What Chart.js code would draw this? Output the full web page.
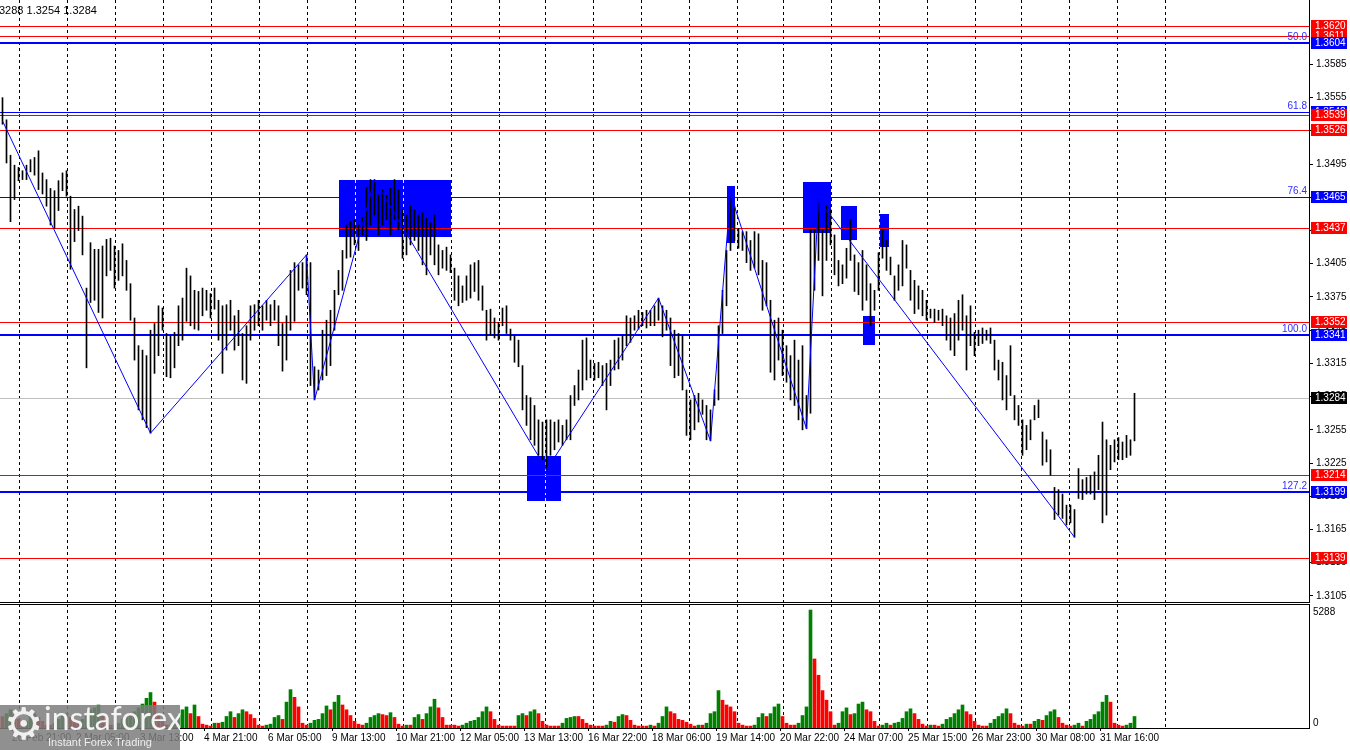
<!DOCTYPE html>
<html>
<head>
<meta charset="utf-8">
<script src="https://cdn.jsdelivr.net/npm/chart.js@4.4.1/dist/chart.umd.min.js"></script>
<style>
  html, body { margin: 0; padding: 0; background: #fff; }
  #wrap { position: relative; width: 1350px; height: 750px; overflow: hidden; background: #fff; }
  #priceCanvas { position: absolute; left: 0; top: 0; }
  #volCanvas { position: absolute; left: 0; top: 603px; }
  #logo { position: absolute; left: 0; top: 705px; width: 180px; height: 45px; background: rgba(125,125,125,0.85); overflow: hidden; }
  #logo .gear { position: absolute; left: 4px; top: -7px; font: 44px 'DejaVu Sans'; color: #f0f0f0; }
  #logo .brand { position: absolute; left: 44px; top: -7px; font: 32px Lato; color: #f4f4f4; }
  #logo .tag { position: absolute; left: 48px; top: 31px; font: 11px 'Liberation Sans'; color: #eeeeee; }
</style>
</head>
<body>
<div id="wrap">
  <canvas id="priceCanvas" width="1350" height="603"></canvas>
  <canvas id="volCanvas" width="1350" height="147"></canvas>
  <div id="logo"><span class="gear">⚙</span><span class="brand">instaforex</span><span class="tag">Instant Forex Trading</span></div>
</div>
<script>
// one bar every 2 hours, index 0 = left edge of the window
const highs = [
  1.3555,1.3535,1.3503,1.3494,1.3492,1.3489,1.3494,1.3499,1.3501,1.3507,
  1.3487,1.3481,1.3473,1.3471,1.3480,1.3487,1.3489,1.3466,1.3454,1.3457,
  1.3448,1.3383,1.3424,1.3418,1.3418,1.3421,1.3427,1.3428,1.3421,1.3417,
  1.3423,1.3408,1.3387,1.3356,1.3331,1.3327,1.3322,1.3345,1.3351,1.3367,
  1.3365,1.3342,1.3340,1.3343,1.3367,1.3374,1.3401,1.3394,1.3381,1.3380,
  1.3383,1.3381,1.3378,1.3383,1.3372,1.3367,1.3368,1.3372,1.3358,1.3363,
  1.3342,1.3349,1.3367,1.3368,1.3372,1.3367,1.3372,1.3368,1.3372,1.3367,
  1.3351,1.3358,1.3399,1.3406,1.3404,1.3406,1.3413,1.3406,1.3312,1.3309,
  1.3345,1.3354,1.3363,1.3381,1.3399,1.3417,1.3440,1.3443,1.3445,1.3440,
  1.3447,1.3474,1.3481,1.3481,1.3467,1.3472,1.3467,1.3473,1.3481,1.3472,
  1.3454,1.3449,1.3457,1.3454,1.3449,1.3451,1.3446,1.3442,1.3449,1.3422,
  1.3417,1.3420,1.3413,1.3401,1.3394,1.3385,1.3394,1.3404,1.3406,1.3408,
  1.3385,1.3363,1.3364,1.3356,1.3352,1.3365,1.3367,1.3346,1.3340,1.3336,
  1.3313,1.3286,1.3284,1.3277,1.3264,1.3262,1.3264,1.3264,1.3262,1.3264,
  1.3259,1.3264,1.3286,1.3295,1.3309,1.3336,1.3338,1.3318,1.3315,1.3316,
  1.3313,1.3315,1.3318,1.3336,1.3338,1.3340,1.3358,1.3356,1.3358,1.3363,
  1.3361,1.3363,1.3363,1.3367,1.3374,1.3367,1.3363,1.3356,1.3345,1.3342,
  1.3340,1.3291,1.3282,1.3286,1.3288,1.3282,1.3277,1.3273,1.3291,1.3349,
  1.3381,1.3417,1.3468,1.3457,1.3437,1.3434,1.3434,1.3426,1.3434,1.3432,
  1.3408,1.3406,1.3372,1.3354,1.3356,1.3345,1.3331,1.3322,1.3336,1.3318,
  1.3331,1.3286,1.3436,1.3436,1.3463,1.3436,1.3457,1.3454,1.3431,1.3408,
  1.3404,1.3419,1.3445,1.3413,1.3406,1.3417,1.3404,1.3387,1.3381,1.3415,
  1.3436,1.3426,1.3411,1.3394,1.3404,1.3426,1.3422,1.3399,1.3390,1.3385,
  1.3381,1.3372,1.3364,1.3364,1.3363,1.3364,1.3358,1.3356,1.3360,1.3372,
  1.3377,1.3358,1.3367,1.3343,1.3345,1.3347,1.3345,1.3347,1.3336,1.3318,
  1.3316,1.3304,1.3331,1.3286,1.3277,1.3264,1.3259,1.3264,1.3277,1.3282,
  1.3253,1.3246,1.3237,1.3203,1.3201,1.3197,1.3187,1.3187,1.3183,1.3220,
  1.3210,1.3212,1.3214,1.3217,1.3232,1.3262,1.3246,1.3241,1.3246,1.3248,
  1.3244,1.3250,1.3246,1.3288
];
const lows = [
  1.3531,1.3496,1.3443,1.3463,1.3480,1.3481,1.3481,1.3488,1.3485,1.3472,
  1.3468,1.3457,1.3440,1.3437,1.3453,1.3471,1.3466,1.3400,1.3425,1.3435,
  1.3413,1.3311,1.3370,1.3372,1.3361,1.3356,1.3394,1.3399,1.3383,1.3390,
  1.3394,1.3381,1.3354,1.3318,1.3273,1.3264,1.3257,1.3252,1.3306,1.3322,
  1.3345,1.3303,1.3302,1.3311,1.3331,1.3336,1.3353,1.3349,1.3346,1.3345,
  1.3358,1.3363,1.3356,1.3364,1.3336,1.3306,1.3327,1.3345,1.3327,1.3331,
  1.3300,1.3297,1.3336,1.3345,1.3349,1.3345,1.3354,1.3349,1.3354,1.3331,
  1.3308,1.3318,1.3345,1.3353,1.3381,1.3383,1.3377,1.3295,1.3282,1.3291,
  1.3300,1.3304,1.3313,1.3345,1.3377,1.3381,1.3410,1.3411,1.3422,1.3417,
  1.3431,1.3426,1.3440,1.3449,1.3431,1.3440,1.3445,1.3431,1.3445,1.3436,
  1.3410,1.3413,1.3422,1.3426,1.3417,1.3404,1.3395,1.3413,1.3404,1.3395,
  1.3401,1.3399,1.3397,1.3372,1.3367,1.3370,1.3372,1.3374,1.3380,1.3372,
  1.3363,1.3336,1.3341,1.3338,1.3336,1.3349,1.3342,1.3336,1.3316,1.3312,
  1.3273,1.3259,1.3246,1.3241,1.3232,1.3228,1.3219,1.3232,1.3237,1.3244,
  1.3241,1.3246,1.3246,1.3277,1.3282,1.3291,1.3300,1.3302,1.3300,1.3302,
  1.3295,1.3273,1.3295,1.3309,1.3310,1.3318,1.3331,1.3334,1.3345,1.3346,
  1.3349,1.3347,1.3349,1.3349,1.3354,1.3339,1.3345,1.3313,1.3302,1.3304,
  1.3291,1.3250,1.3246,1.3255,1.3262,1.3269,1.3246,1.3245,1.3277,1.3282,
  1.3342,1.3367,1.3417,1.3426,1.3419,1.3417,1.3406,1.3399,1.3401,1.3395,
  1.3363,1.3367,1.3307,1.3300,1.3318,1.3304,1.3298,1.3282,1.3277,1.3264,
  1.3255,1.3256,1.3270,1.3381,1.3408,1.3376,1.3408,1.3422,1.3395,1.3385,
  1.3387,1.3392,1.3408,1.3380,1.3377,1.3363,1.3372,1.3349,1.3363,1.3381,
  1.3410,1.3399,1.3395,1.3372,1.3381,1.3385,1.3401,1.3372,1.3360,1.3364,
  1.3358,1.3354,1.3356,1.3352,1.3354,1.3349,1.3336,1.3327,1.3322,1.3336,
  1.3345,1.3309,1.3331,1.3322,1.3331,1.3333,1.3336,1.3333,1.3309,1.3300,
  1.3282,1.3273,1.3286,1.3264,1.3259,1.3232,1.3237,1.3246,1.3264,1.3266,
  1.3223,1.3226,1.3214,1.3174,1.3178,1.3175,1.3169,1.3171,1.3158,1.3193,
  1.3192,1.3197,1.3197,1.3192,1.3201,1.3171,1.3178,1.3219,1.3226,1.3228,
  1.3228,1.3230,1.3232,1.3245
];
const volumes = [
  516,645,817,645,387,215,301,516,645,473,
  301,129,129,215,387,559,645,473,301,215,
  387,645,817,903,1032,645,301,129,129,215,
  387,473,559,731,903,1075,1333,1591,1161,645,
  301,129,129,301,559,817,946,645,1032,516,
  172,129,86,215,215,258,516,731,473,645,
  817,731,602,430,129,86,129,172,473,559,
  387,1161,1720,1376,946,215,129,215,344,387,
  645,989,817,1161,1462,1032,817,559,301,172,
  129,215,473,559,645,602,559,688,473,172,
  86,129,129,473,602,387,645,946,1290,903,
  473,129,129,129,86,129,215,301,344,473,
  731,946,731,387,129,86,86,86,86,559,
  645,559,731,817,645,301,129,86,86,86,
  215,430,473,516,516,387,215,129,86,86,
  86,129,301,258,516,602,559,344,129,86,
  86,86,129,86,215,516,946,731,645,387,
  344,258,172,86,129,129,215,645,731,1677,
  1247,1032,946,731,215,129,86,86,129,473,
  645,516,645,946,1075,516,215,129,129,215,
  559,946,5288,3096,2365,1677,1247,731,129,215,
  731,903,602,645,1075,1161,817,731,301,86,
  129,215,129,215,258,430,731,860,645,387,
  172,86,129,129,86,172,387,473,645,817,
  1032,731,602,301,129,86,86,215,387,516,
  645,860,645,215,129,86,172,172,301,387,
  344,559,731,817,473,215,129,86,129,215,
  86,301,387,602,731,1161,1462,1161,215,129,
  86,129,215,516
];
const volTop = 5288;

// day separators and time labels, in bar units
const gridBars = [4.15,16.15,28.15,40.15,52.15,64.15,76.15,88.15,100.15,112.15,124.15,135.65,147.65,
  159.65,171.65,183.65,195.15,207.15,219.15,231.15,243.15,254.65,266.65,278.65,290.65];
const labelBars = [2.4,18.4,34.4,50.4,66.4,82.4,98.4,114.4,130.4,146.4,162.4,178.4,
  194.4,210.4,226.4,242.4,258.4,274.4];
const timeLabels = ['26 Feb 21:00','2 Mar 05:00','3 Mar 13:00','4 Mar 21:00','6 Mar 05:00',
  '9 Mar 13:00','10 Mar 21:00','12 Mar 05:00','13 Mar 13:00','16 Mar 22:00','18 Mar 06:00',
  '19 Mar 14:00','20 Mar 22:00','24 Mar 07:00','25 Mar 15:00','26 Mar 23:00','30 Mar 08:00',
  '31 Mar 16:00'];
const priceTicks = [1.3585,1.3555,1.3525,1.3495,1.3465,1.3435,1.3405,1.3375,1.3345,1.3315,
  1.3285,1.3255,1.3225,1.3195,1.3165,1.3135,1.3105];

// drawn levels
const redLevels = [1.3620,1.3611,1.3539,1.3526,1.3437,1.3352,1.3214,1.3139];
const fiboLevels = [1.3604,1.3542,1.3465,1.3341,1.3199];
const fiboNames = ['50.0','61.8','76.4','100.0','127.2'];
const fiboWidths = [2,1,1,2,2];
const lastPrice = 1.3284;

// zigzag
const zigzagBars = [0,37,76,78,93,136,164,177,182,201,204,268];
const zigzagPrices = [1.3534,1.3252,1.3413,1.3282,1.3481,1.3219,1.3374,1.3245,1.3468,1.3256,1.3463,1.3158];

// blue zones
const boxFrom = [84.1,131.1,181.1,200.1,209.6,215.1,219.2];
const boxTo = [112.1,139.55,183.05,207.15,213.55,218.1,221.6];
const boxHigh = [1.3481,1.3231,1.3475,1.3479,1.3457,1.3358,1.3450];
const boxLow = [1.3429,1.3191,1.3424,1.3433,1.3426,1.3332,1.3420];

const priceMin = 1.30986, priceMax = 1.36432;
const barMin = -0.625, barMax = 326.625;
const volMax = 5560;

Chart.defaults.font.family = 'Liberation Sans';
Chart.defaults.font.size = 10;
Chart.defaults.color = '#000';

const noPad = s => { s.paddingTop = 0; s.paddingBottom = 0; s.paddingLeft = 0; s.paddingRight = 0; };

const whiteBg = {
  id: 'whiteBg',
  beforeDraw(chart) {
    const ctx = chart.ctx;
    ctx.save();
    ctx.fillStyle = '#fff';
    ctx.fillRect(0, 0, chart.width, chart.height);
    ctx.restore();
  }
};

const pricePlugin = {
  id: 'pricePlugin',
  beforeDatasetsDraw(chart) {
    const { ctx, chartArea: a, scales: { x, y } } = chart;
    ctx.save();
    // zones invert what is under them, as the terminal does
    ctx.globalCompositeOperation = 'difference';
    ctx.fillStyle = '#ffff00';
    boxFrom.forEach((b, i) => {
      const x0 = Math.round(x.getPixelForValue(b));
      const x1 = Math.round(x.getPixelForValue(boxTo[i]));
      const y0 = Math.round(y.getPixelForValue(boxHigh[i]));
      const y1 = Math.round(y.getPixelForValue(boxLow[i]));
      ctx.fillRect(x0, y0, x1 - x0, y1 - y0);
    });
    ctx.globalCompositeOperation = 'source-over';
    const hline = (v, color, w) => {
      const py = Math.round(y.getPixelForValue(v));
      ctx.fillStyle = color;
      ctx.fillRect(a.left, py - Math.floor(w / 2), a.right - a.left, w);
    };
    hline(lastPrice, '#c0c0c0', 1);
    fiboLevels.forEach((v, i) => hline(v, '#0000ff', fiboWidths[i]));
    redLevels.forEach(v => hline(v, '#ff0000', 1));
    ctx.restore();
  },
  afterDraw(chart) {
    const { ctx, chartArea: a, scales: { y } } = chart;
    ctx.save();
    ctx.fillStyle = '#000';
    ctx.fillRect(0, a.bottom - 1, a.right + 1, 1);

    ctx.font = "10px 'Liberation Sans'";
    ctx.textAlign = 'right';
    ctx.textBaseline = 'bottom';
    ctx.fillStyle = '#2f2fff';
    fiboLevels.forEach((v, i) => {
      const py = Math.round(y.getPixelForValue(v));
      ctx.fillText(fiboNames[i], a.right - 2, py - 1);
    });

    const tags = redLevels.map(v => ({ v, c: '#ff0000' }))
      .concat(fiboLevels.map(v => ({ v, c: '#0000ff' })))
      .concat([{ v: lastPrice, c: '#000000' }])
      .sort((p, q) => q.v - p.v);
    ctx.textAlign = 'left';
    ctx.textBaseline = 'middle';
    tags.forEach(t => {
      const py = Math.round(y.getPixelForValue(t.v));
      ctx.fillStyle = t.c;
      ctx.fillRect(a.right + 2, py - 6, 36, 12);
      ctx.fillStyle = '#fff';
      ctx.fillText(t.v.toFixed(4), a.right + 6, py + 0.5);
    });

    ctx.fillStyle = '#000';
    ctx.font = "11px 'Liberation Sans'";
    ctx.textBaseline = 'top';
    ctx.fillText('3288 1.3254 1.3284', -1, 5);
    ctx.restore();
  }
};

const volPlugin = {
  id: 'volPlugin',
  afterDraw(chart) {
    const { ctx, chartArea: a, scales: { y } } = chart;
    ctx.save();
    ctx.fillStyle = '#000';
    ctx.fillRect(0, a.top, a.right + 1, 1);
    ctx.font = "10px 'Liberation Sans'";
    ctx.textAlign = 'left';
    ctx.textBaseline = 'middle';
    ctx.fillText(String(volTop), a.right + 4, y.getPixelForValue(volTop) + 2);
    ctx.fillText('0', a.right + 4, y.getPixelForValue(0) - 5);
    ctx.restore();
  }
};

const gridAxis = {
  type: 'linear', min: barMin, max: barMax, offset: false, bounds: 'data',
  afterBuildTicks: s => { s.ticks = gridBars.map(v => ({ value: v })); },
  afterFit: s => { s.height = 0; noPad(s); },
  ticks: { display: false },
  grid: { color: '#000', lineWidth: 1, drawTicks: false, offset: false },
  border: { display: false, dash: [3, 3] }
};

new Chart(document.getElementById('priceCanvas'), {
  type: 'bar',
  data: {
    datasets: [
      {
        type: 'line',
        data: zigzagBars.map((b, i) => ({ x: b, y: zigzagPrices[i] })),
        borderColor: '#0000ff', borderWidth: 1, pointRadius: 0, tension: 0
      },
      {
        type: 'bar',
        data: highs.map((h, i) => ({ x: i, y: [lows[i], h] })),
        backgroundColor: '#000', barThickness: 1, grouped: false
      }
    ]
  },
  options: {
    responsive: false, animation: false, devicePixelRatio: 1,
    layout: { padding: 0 },
    plugins: { legend: { display: false }, tooltip: { enabled: false } },
    scales: {
      x: gridAxis,
      y: {
        position: 'right', min: priceMin, max: priceMax, beginAtZero: false, bounds: 'data',
        afterBuildTicks: s => { s.ticks = priceTicks.map(v => ({ value: v })); },
        afterFit: s => { s.width = 41; noPad(s); },
        ticks: { autoSkip: false, padding: 3, callback: v => Number(v).toFixed(4) },
        grid: { drawOnChartArea: false, drawTicks: true, tickLength: 4, color: '#000' },
        border: { display: true, color: '#000' }
      }
    }
  },
  plugins: [whiteBg, pricePlugin]
});

new Chart(document.getElementById('volCanvas'), {
  type: 'bar',
  data: {
    datasets: [{
      data: volumes.map((v, i) => ({ x: i, y: v })),
      backgroundColor: c => (c.dataIndex > 0 && volumes[c.dataIndex] > volumes[c.dataIndex - 1]) ? '#008000' : '#ff0000',
      barThickness: 3, grouped: false
    }]
  },
  options: {
    responsive: false, animation: false, devicePixelRatio: 1,
    layout: { padding: { top: 1 } },
    plugins: { legend: { display: false }, tooltip: { enabled: false } },
    scales: {
      x: gridAxis,
      x2: {
        type: 'linear', position: 'bottom', min: barMin, max: barMax, offset: false, bounds: 'data',
        afterBuildTicks: s => { s.ticks = labelBars.map(v => ({ value: v })); },
        afterFit: s => { s.height = 22; noPad(s); },
        ticks: { autoSkip: false, maxRotation: 0, align: 'start', padding: 1,
                 callback: (v, i) => timeLabels[i] },
        grid: { drawOnChartArea: false, drawTicks: true, tickLength: 3, color: '#000', offset: false },
        border: { display: true, color: '#000' }
      },
      y: {
        position: 'right', min: 0, max: volMax, beginAtZero: true,
        afterFit: s => { s.width = 41; noPad(s); },
        ticks: { display: false },
        grid: { display: false },
        border: { display: true, color: '#000' }
      }
    }
  },
  plugins: [whiteBg, volPlugin]
});
</script>
</body>
</html>
